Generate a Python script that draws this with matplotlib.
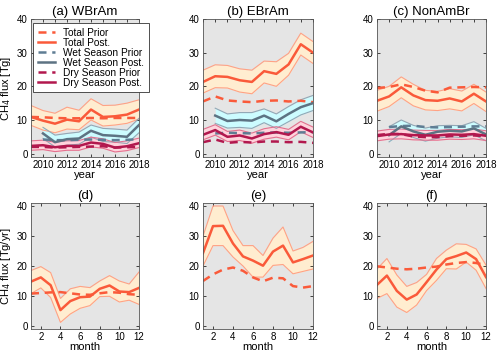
import numpy as np
import matplotlib
matplotlib.use("Agg")
import matplotlib.pyplot as plt
from matplotlib.ticker import MultipleLocator

plt.rcParams['font.family'] = ['Liberation Sans', 'DejaVu Sans']

years = [2009, 2010, 2011, 2012, 2013, 2014, 2015, 2016, 2017, 2018]
wet_years = years[1:]
months = list(range(1, 13))

# ---- (a) WBrAm
a_tot_post = [10.9, 9.8, 8.9, 10.1, 9.6, 13.1, 10.9, 11.1, 11.6, 13.1]
a_tot_up = [14.3, 12.8, 12.0, 13.8, 12.9, 16.3, 14.3, 14.4, 15.0, 16.0]
a_tot_lo = [8.4, 7.0, 6.2, 7.3, 7.1, 10.0, 8.2, 8.5, 9.0, 10.3]
a_tot_prior = [10.9, 10.8, 10.6, 10.5, 10.5, 10.6, 10.5, 10.6, 10.6, 10.6]
a_wet_post = [6.0, 3.4, 4.3, 4.5, 6.8, 5.5, 5.3, 5.0, 8.5]
a_wet_up = [7.8, 5.5, 6.0, 6.4, 8.5, 7.5, 7.3, 7.0, 10.5]
a_wet_lo = [4.5, 2.0, 2.5, 2.8, 4.9, 3.6, 3.4, 3.0, 6.2]
a_wet_prior = [4.2, 4.0, 4.0, 4.1, 4.2, 4.1, 4.0, 4.1, 4.3]
a_dry_post = [2.3, 2.5, 1.9, 2.3, 2.3, 3.3, 2.9, 1.8, 2.2, 3.1]
a_dry_up = [3.8, 4.0, 3.4, 3.8, 3.9, 4.9, 4.4, 3.3, 3.8, 4.6]
a_dry_lo = [1.0, 1.2, 0.6, 1.0, 1.0, 2.0, 1.6, 0.5, 0.9, 1.8]
a_dry_prior = [2.0, 2.0, 1.8, 1.9, 2.0, 2.1, 2.2, 1.8, 1.9, 2.0]

# ---- (b) EBrAm
b_tot_post = [21.3, 23.0, 22.8, 21.8, 21.3, 24.5, 23.7, 26.5, 32.5, 30.0]
b_tot_up = [24.8, 26.4, 26.2, 25.2, 24.8, 27.5, 27.3, 29.8, 35.8, 33.3]
b_tot_lo = [18.0, 19.6, 19.5, 18.3, 17.8, 21.0, 20.0, 23.3, 29.3, 26.8]
b_tot_prior = [15.5, 17.0, 15.8, 15.5, 15.3, 15.7, 15.8, 15.5, 15.7, 15.3]
b_wet_post = [11.3, 9.7, 10.0, 9.8, 11.3, 9.6, 11.8, 13.8, 15.0]
b_wet_up = [13.5, 11.8, 12.2, 12.2, 13.3, 11.8, 14.0, 16.0, 17.3]
b_wet_lo = [9.0, 7.6, 7.8, 7.5, 9.2, 7.5, 9.5, 11.5, 12.8]
b_wet_prior = [6.0, 6.2, 6.1, 6.0, 6.2, 6.3, 6.2, 6.3, 6.4]
b_dry_post = [5.6, 7.0, 5.0, 5.4, 4.5, 5.8, 6.4, 5.6, 8.0, 6.3]
b_dry_up = [7.2, 8.6, 6.6, 7.0, 6.1, 7.4, 8.0, 7.2, 9.6, 7.9]
b_dry_lo = [4.1, 5.5, 3.6, 3.9, 3.1, 4.3, 4.9, 4.1, 6.5, 4.8]
b_dry_prior = [3.4, 4.2, 3.2, 3.5, 3.3, 3.6, 3.6, 3.4, 3.5, 3.2]

# ---- (c) NonAmBr
c_tot_post = [15.7, 17.0, 19.7, 17.3, 15.9, 15.7, 16.4, 15.5, 17.8, 15.5]
c_tot_up = [18.8, 20.0, 22.8, 20.6, 18.8, 18.5, 19.3, 18.6, 20.6, 18.3]
c_tot_lo = [12.6, 14.0, 16.6, 14.2, 13.0, 12.8, 13.3, 12.7, 14.9, 12.5]
c_tot_prior = [19.5, 19.8, 20.6, 19.8, 18.7, 18.2, 19.6, 19.7, 19.8, 19.7]
c_wet_post = [5.5, 8.1, 6.6, 5.6, 6.5, 6.8, 6.6, 7.5, 5.7]
c_wet_up = [8.0, 10.0, 8.4, 7.6, 8.3, 8.4, 8.3, 9.5, 7.5]
c_wet_lo = [3.5, 6.0, 4.8, 3.7, 4.6, 5.0, 4.8, 5.6, 3.8]
c_wet_prior = [7.9, 8.2, 8.3, 7.9, 7.8, 7.9, 8.0, 8.1, 8.1]
c_dry_post = [5.2, 5.7, 5.8, 5.5, 5.4, 5.4, 5.7, 5.6, 5.8, 5.3]
c_dry_up = [6.7, 7.2, 7.3, 7.0, 6.9, 6.9, 7.2, 7.1, 7.3, 6.8]
c_dry_lo = [3.8, 4.3, 4.4, 4.1, 4.0, 4.0, 4.3, 4.2, 4.4, 3.9]
c_dry_prior = [5.5, 5.9, 5.8, 5.1, 4.9, 4.9, 5.2, 5.3, 5.4, 5.2]

# ---- monthly (d), (e), (f)
d_post = [14.8, 16.2, 13.6, 5.3, 8.3, 9.6, 9.8, 12.4, 13.5, 11.5, 11.3, 12.7]
d_up = [18.5, 19.8, 17.8, 9.2, 12.4, 13.2, 12.8, 15.0, 16.8, 15.0, 14.0, 18.0]
d_lo = [10.8, 12.7, 9.5, 1.2, 4.0, 5.9, 6.8, 9.8, 9.9, 8.0, 8.6, 7.2]
d_prior = [10.8, 11.0, 11.2, 11.3, 10.9, 10.5, 10.4, 10.9, 11.3, 11.1, 10.6, 10.4]

e_post = [24.3, 33.3, 33.4, 27.5, 23.2, 21.8, 20.1, 24.8, 26.8, 21.2, 22.3, 23.5]
e_up = [30.0, 40.0, 40.0, 31.8, 26.8, 26.8, 23.5, 29.3, 33.0, 25.0, 26.2, 28.2]
e_lo = [20.0, 26.8, 26.8, 23.0, 20.0, 16.3, 16.3, 20.2, 20.5, 17.4, 18.2, 19.0]
e_prior = [15.0, 17.2, 18.8, 19.5, 18.4, 16.2, 14.9, 16.1, 15.9, 13.3, 12.8, 13.3]

f_post = [13.7, 16.8, 11.7, 8.8, 10.5, 14.6, 18.8, 22.3, 23.3, 24.5, 22.3, 16.3]
f_up = [19.0, 22.5, 17.0, 13.2, 14.5, 17.2, 22.5, 25.3, 27.4, 27.2, 25.7, 20.3]
f_lo = [9.2, 10.8, 6.3, 4.5, 7.0, 11.8, 15.2, 19.1, 19.0, 21.3, 18.6, 12.5]
f_prior = [19.9, 19.5, 19.1, 18.9, 19.1, 19.5, 19.8, 20.5, 21.0, 21.3, 21.0, 20.3]

titles_top = ["(a) WBrAm", "(b) EBrAm", "(c) NonAmBr"]
titles_bot = ["(d)", "(e)", "(f)"]

C_TOT = '#fa5a3a'
C_TOT_FILL = '#ffedd0'
C_TOT_EDGE = '#ffa285'
C_WET = '#5d7383'
C_WET_PRIOR = '#5f7d94'
C_WET_FILL = '#ccfcff'
C_WET_EDGE = '#92a8b6'
C_DRY = '#b2184e'
C_DRY_FILL = '#ffd3dc'
C_DRY_EDGE = '#e3708e'
BG = '#e5e5e5'
DASH = (0, (3.2, 2.3))

fig = plt.figure(figsize=(5.0, 3.55), dpi=100)
lefts = [31/500, 203/500, 377/500]
widths = [108/500, 110/500, 109/500]
top_row = (1 - 157/355, (157 - 19)/355)
bot_row = (1 - 329/355, (329 - 203)/355)


def style(ax):
    ax.set_facecolor(BG)
    ax.tick_params(direction='in', length=2.5, width=0.5, labelsize=7,
                   top=True, right=True, pad=2.5)
    ax.tick_params(which='minor', direction='in', length=2.5, width=0.5,
                   top=True, right=True)
    for s in ax.spines.values():
        s.set_linewidth(0.6)
        s.set_color('#555555')
    ax.yaxis.set_major_locator(MultipleLocator(10))


def band(ax, x, lo, up, fill, edge):
    ax.fill_between(x, lo, up, color=fill, lw=0)
    ax.plot(x, lo, color=edge, lw=0.8)
    ax.plot(x, up, color=edge, lw=0.8)


top_data = [
    (a_tot_post, a_tot_up, a_tot_lo, a_tot_prior, a_wet_post, a_wet_up, a_wet_lo, a_wet_prior,
     a_dry_post, a_dry_up, a_dry_lo, a_dry_prior),
    (b_tot_post, b_tot_up, b_tot_lo, b_tot_prior, b_wet_post, b_wet_up, b_wet_lo, b_wet_prior,
     b_dry_post, b_dry_up, b_dry_lo, b_dry_prior),
    (c_tot_post, c_tot_up, c_tot_lo, c_tot_prior, c_wet_post, c_wet_up, c_wet_lo, c_wet_prior,
     c_dry_post, c_dry_up, c_dry_lo, c_dry_prior),
]

for i, d in enumerate(top_data):
    (tp, tu, tl, tpr, wp, wu, wl, wpr, dp, du, dl, dpr) = d
    ax = fig.add_axes([lefts[i], top_row[0], widths[i], top_row[1]])
    style(ax)
    band(ax, years, tl, tu, C_TOT_FILL, C_TOT_EDGE)
    band(ax, wet_years, wl, wu, C_WET_FILL, C_WET_EDGE)
    band(ax, years, dl, du, C_DRY_FILL, C_DRY_EDGE)
    h1, = ax.plot(years, tpr, color=C_TOT, lw=1.8, ls=DASH, label='Total Prior')
    h2, = ax.plot(years, tp, color=C_TOT, lw=1.8, label='Total Post.')
    h3, = ax.plot(wet_years, wpr, color=C_WET_PRIOR, lw=1.8, ls=DASH, label='Wet Season Prior')
    h4, = ax.plot(wet_years, wp, color=C_WET, lw=1.8, label='Wet Season Post.')
    h5, = ax.plot(years, dpr, color=C_DRY, lw=1.8, ls=DASH, label='Dry Season Prior')
    h6, = ax.plot(years, dp, color=C_DRY, lw=1.8, label='Dry Season Post.')
    ax.set_xlim(2009, 2018)
    ax.set_ylim(-1, 40)
    ax.set_xticks([2010, 2012, 2014, 2016, 2018])
    ax.xaxis.set_minor_locator(MultipleLocator(1))
    ax.set_title(titles_top[i], fontsize=9.5, pad=3)
    ax.set_xlabel('year', fontsize=8, labelpad=0)
    if i == 0:
        ax.set_ylabel('CH$_4$ flux [Tg]', fontsize=8, labelpad=3)
        leg = ax.legend(handles=[h1, h2, h3, h4, h5, h6], loc='upper left',
                        bbox_to_anchor=(0.02, 0.97), fontsize=7.3, frameon=True,
                        fancybox=False, framealpha=1, edgecolor='#333333',
                        handlelength=1.7, handletextpad=0.8, labelspacing=0.0,
                        borderpad=0.45, borderaxespad=0)
        leg.get_frame().set_linewidth(0.6)

bot_data = [(d_post, d_up, d_lo, d_prior), (e_post, e_up, e_lo, e_prior),
            (f_post, f_up, f_lo, f_prior)]
for i, (p, u, l, pr) in enumerate(bot_data):
    ax = fig.add_axes([lefts[i], bot_row[0], widths[i], bot_row[1]])
    style(ax)
    band(ax, months, l, u, C_TOT_FILL, C_TOT_EDGE)
    ax.plot(months, pr, color=C_TOT, lw=1.8, ls=DASH)
    ax.plot(months, p, color=C_TOT, lw=1.8)
    ax.set_xlim(1, 12)
    ax.set_ylim(-1, 41)
    ax.set_xticks([2, 4, 6, 8, 10, 12])
    ax.set_title(titles_bot[i], fontsize=9.5, pad=3)
    ax.set_xlabel('month', fontsize=8, labelpad=0)
    if i == 0:
        ax.set_ylabel('CH$_4$ flux [Tg/yr]', fontsize=8, labelpad=3)

fig.savefig('out.png', dpi=100)
